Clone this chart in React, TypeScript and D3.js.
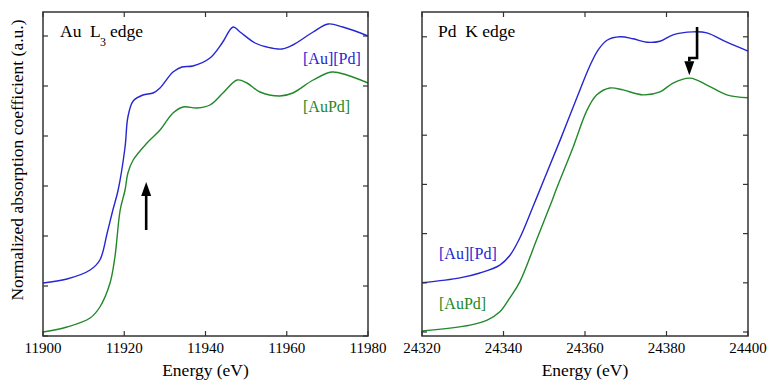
import * as d3 from 'd3'

// Au L3 edge (left panel)
const auEnergySep = [11900, 11905.9, 11911.6, 11914, 11915.8, 11917.2, 11918.5, 11920.2, 11920.9, 11922.2, 11924.6, 11927.1, 11928.8, 11932, 11934.2, 11936.9, 11941.1, 11944.1, 11946.8, 11948.5, 11952.2, 11955.1, 11958.8, 11961.5, 11966.5, 11970.2, 11973.8, 11980]
const auMuSep = [1.06, 1.14, 1.32, 1.52, 2.06, 2.52, 2.92, 3.78, 4.38, 4.7, 4.82, 4.86, 4.96, 5.28, 5.38, 5.4, 5.56, 5.86, 6.18, 6.08, 5.86, 5.78, 5.74, 5.82, 6.08, 6.24, 6.18, 6.0]
const auEnergyAlloy = [11900, 11905.9, 11911.6, 11914, 11916.5, 11917.7, 11919, 11920.2, 11920.9, 11922.2, 11925.6, 11928.8, 11932, 11934.5, 11937.9, 11941.1, 11944.3, 11947.8, 11950.2, 11953.4, 11958.3, 11961.5, 11966.5, 11971.1, 11974.8, 11980]
const auMuAlloy = [0.08, 0.18, 0.36, 0.58, 1.06, 1.58, 2.52, 2.92, 3.26, 3.52, 3.86, 4.12, 4.46, 4.58, 4.56, 4.62, 4.86, 5.12, 5.06, 4.88, 4.8, 4.86, 5.12, 5.28, 5.22, 5.06]

// Pd K edge (right panel)
const pdEnergySep = [24320, 24329.3, 24334.2, 24339.1, 24341.6, 24344, 24347.2, 24350.2, 24353.9, 24358, 24361.2, 24363.2, 24365.4, 24368.6, 24371.8, 24375.2, 24378.4, 24381.6, 24386.5, 24389.9, 24394.8, 24400]
const pdMuSep = [1.0, 1.1, 1.2, 1.36, 1.56, 1.91, 2.54, 3.15, 3.9, 4.76, 5.41, 5.73, 5.93, 6.0, 5.96, 5.89, 5.91, 6.04, 6.1, 6.08, 5.89, 5.71]
const pdEnergyAlloy = [24320, 24331.8, 24336, 24339.1, 24341.6, 24344, 24348.2, 24351.4, 24353.1, 24357.1, 24360.5, 24362.9, 24366.1, 24369.3, 24374.2, 24378.4, 24381.6, 24385.8, 24389.9, 24394.8, 24400]
const pdMuAlloy = [0.02, 0.14, 0.24, 0.41, 0.7, 1.02, 1.89, 2.56, 2.93, 3.76, 4.51, 4.82, 4.96, 4.92, 4.82, 4.88, 5.06, 5.16, 5.02, 4.82, 4.76]

const auTicks = [11900, 11920, 11940, 11960, 11980]
const pdTicks = [24320, 24340, 24360, 24380, 24400]
const yTicks = [0, 1, 2, 3, 4, 5, 6]

// arrows: [energy, mu] points
const auArrow = [[11925.4, 2.12], [11925.4, 3.08]]
const pdArrow = [[24387.5, 6.2], [24387.5, 5.57], [24385.6, 5.57], [24385.6, 5.22]]

const BLUE = '#2626d2'
const GREEN = '#22882a'
const FRAME = '#333'
const FONT = "'Liberation Serif', 'DejaVu Serif', serif"
const txt = (size: number) => ({ fontFamily: FONT, fontSize: size })

type PanelProps = {
  x0: number
  x1: number
  xDomain: [number, number]
  yDomain: [number, number]
  ticks: number[]
  sepE: number[]
  sepMu: number[]
  alloyE: number[]
  alloyMu: number[]
  arrow: number[][]
  children?: React.ReactNode
}

const TOP = 12
const BOTTOM = 336

function Panel({ x0, x1, xDomain, yDomain, ticks, sepE, sepMu, alloyE, alloyMu, arrow, children }: PanelProps) {
  const x = d3.scaleLinear().domain(xDomain).range([x0, x1])
  const y = d3.scaleLinear().domain(yDomain).range([BOTTOM, TOP])
  const line = d3.line<number[]>().x(d => x(d[0])).y(d => y(d[1])).curve(d3.curveCatmullRom.alpha(0.5))
  const sep = line(sepE.map((e, i) => [e, sepMu[i]])) || ''
  const alloy = line(alloyE.map((e, i) => [e, alloyMu[i]])) || ''

  // arrow shaft + head
  const pts = arrow.map(p => [x(p[0]), y(p[1])])
  const tip = pts[pts.length - 1]
  const prev = pts[pts.length - 2]
  const dir = Math.sign(tip[1] - prev[1])
  const headLen = 14
  const headW = 5
  const shaftEnd = [tip[0], tip[1] - dir * headLen]
  const shaft = d3.line()([...pts.slice(0, -1), shaftEnd] as [number, number][]) || ''
  const head = `M${tip[0]},${tip[1]} L${tip[0] - headW},${tip[1] - dir * headLen} L${tip[0] + headW},${tip[1] - dir * headLen} Z`

  const tl = 5
  return (
    <g>
      <path d={alloy} fill="none" stroke={GREEN} strokeWidth={1.4} />
      <path d={sep} fill="none" stroke={BLUE} strokeWidth={1.4} />
      <path d={shaft} fill="none" stroke="#000" strokeWidth={2.6} strokeLinejoin="miter" />
      <path d={head} fill="#000" />
      {ticks.map(t => (
        <g key={t}>
          <line x1={x(t)} x2={x(t)} y1={BOTTOM} y2={BOTTOM - tl} stroke={FRAME} strokeWidth={1.2} />
          <line x1={x(t)} x2={x(t)} y1={TOP} y2={TOP + tl} stroke={FRAME} strokeWidth={1.2} />
          <text x={x(t)} y={353} textAnchor="middle" style={txt(15)} fill="#000">{t}</text>
        </g>
      ))}
      {yTicks.map(t => (
        <g key={'y' + t}>
          <line x1={x0} x2={x0 + tl} y1={y(t)} y2={y(t)} stroke={FRAME} strokeWidth={1.2} />
          <line x1={x1} x2={x1 - tl} y1={y(t)} y2={y(t)} stroke={FRAME} strokeWidth={1.2} />
        </g>
      ))}
      <rect x={x0} y={TOP} width={x1 - x0} height={BOTTOM - TOP} fill="none" stroke={FRAME} strokeWidth={1.5} />
      <text x={(x0 + x1) / 2} y={376} textAnchor="middle" style={txt(17.5)} fill="#000">Energy (eV)</text>
      {children}
    </g>
  )
}

export default function App() {
  return (
    <svg width={769} height={380} style={{ position: 'absolute', left: 0, top: 0, background: '#fff' }}>
      <text transform="translate(23,160) rotate(-90)" textAnchor="middle" style={txt(17.5)} fill="#000">
        Normalized absorption coefficient (a.u.)
      </text>
      <Panel x0={43} x1={368} xDomain={[11900, 11980]} yDomain={[0, 6.48]} ticks={auTicks}
        sepE={auEnergySep} sepMu={auMuSep} alloyE={auEnergyAlloy} alloyMu={auMuAlloy} arrow={auArrow}>
        <text x={60} y={37} style={txt(17.5)} fill="#000">Au</text>
        <text x={90} y={37} style={txt(17.5)} fill="#000">L</text>
        <text x={100} y={46} style={txt(12)} fill="#000">3</text>
        <text x={110} y={37} style={txt(17.5)} fill="#000">edge</text>
        <text x={303} y={64} style={txt(16)} fill={BLUE}>[Au][Pd]</text>
        <text x={303} y={112} style={txt(16)} fill={GREEN}>[AuPd]</text>
      </Panel>
      <Panel x0={422} x1={748} xDomain={[24320, 24400]} yDomain={[-0.081, 6.504]} ticks={pdTicks}
        sepE={pdEnergySep} sepMu={pdMuSep} alloyE={pdEnergyAlloy} alloyMu={pdMuAlloy} arrow={pdArrow}>
        <text x={438} y={37} style={{ ...txt(17.5), whiteSpace: 'pre' }} fill="#000">Pd  K edge</text>
        <text x={439} y={259} style={txt(16)} fill={BLUE}>[Au][Pd]</text>
        <text x={439} y={309} style={txt(16)} fill={GREEN}>[AuPd]</text>
      </Panel>
    </svg>
  )
}
